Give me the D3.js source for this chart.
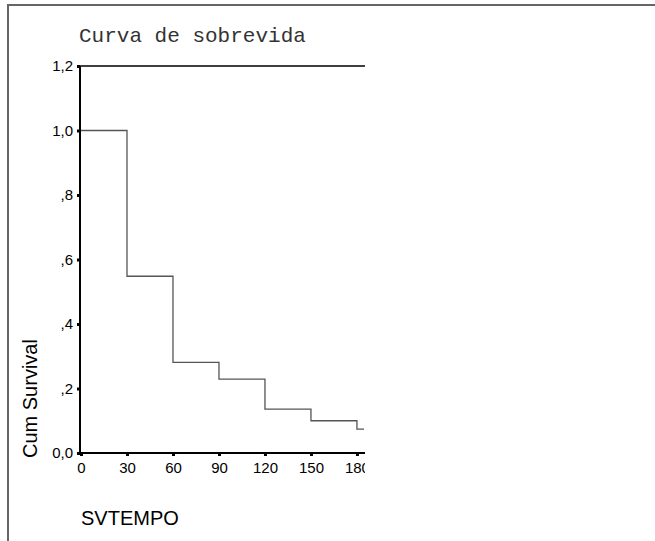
<!DOCTYPE html>
<html>
<head>
<meta charset="utf-8">
<script src="https://cdn.jsdelivr.net/npm/d3@7"></script>
<style>
  html, body { margin: 0; padding: 0; background: #fff; }
  svg { display: block; }
</style>
</head>
<body>
<div id="chart"></div>
<script>
// Kaplan-Meier steps
const times = [0, 30, 60, 90, 120, 150, 180];
const survival = [1.0, 0.548, 0.281, 0.229, 0.136, 0.100, 0.074];

const xTicks = [0, 30, 60, 90, 120, 150, 180];
const yTicks = [0, 0.2, 0.4, 0.6, 0.8, 1.0, 1.2];
const yTickLabels = ['0,0', ',2', ',4', ',6', ',8', '1,0', '1,2'];

const width = 655, height = 541;
const sans = '"Liberation Sans", Arial, sans-serif';

const svg = d3.select('#chart').append('svg')
  .attr('width', width)
  .attr('height', height);

// outer frame (only top and left edges are visible)
svg.append('path')
  .attr('d', `M8,${height}V5H${width}`)
  .attr('fill', 'none')
  .attr('stroke', '#666')
  .attr('stroke-width', 2);

// title
svg.append('text')
  .attr('x', 79)
  .attr('y', 42)
  .style('font-family', '"Liberation Mono", "Courier New", monospace')
  .style('font-size', '21px')
  .attr('fill', '#333')
  .text('Curva de sobrevida');

const x = d3.scaleLinear().domain([0, 184.6]).range([81, 364]);
const y = d3.scaleLinear().domain([0, 1.2]).range([453, 66]);

svg.append('clipPath').attr('id', 'plot-clip')
  .append('rect')
  .attr('x', 0).attr('y', 0)
  .attr('width', 365).attr('height', height);

const g = svg.append('g').attr('clip-path', 'url(#plot-clip)');

// survival step curve
const pts = [];
times.forEach((t, i) => {
  if (i > 0) pts.push([t, survival[i - 1]]);
  pts.push([t, survival[i]]);
});
pts.push([x.domain()[1], survival[survival.length - 1]]);

g.append('path')
  .datum(pts)
  .attr('fill', 'none')
  .attr('stroke', '#555')
  .attr('stroke-width', 1.3)
  .attr('d', d3.line().x(d => x(d[0])).y(d => y(d[1])));

// top line at 1,2
g.append('line')
  .attr('x1', 80).attr('x2', 365)
  .attr('y1', y(1.2)).attr('y2', y(1.2))
  .attr('stroke', '#000')
  .attr('stroke-width', 1.5);

// y axis
const yAxis = d3.axisLeft(y)
  .tickValues(yTicks)
  .tickSize(3)
  .tickPadding(4)
  .tickFormat((d, i) => yTickLabels[i]);

const yg = g.append('g')
  .attr('transform', 'translate(80,0)')
  .call(yAxis);
yg.select('.domain').attr('stroke', '#000').attr('stroke-width', 2)
  .attr('d', `M0,${y(1.2)}V${y(0)}`);
yg.selectAll('.tick line').attr('stroke', '#000').attr('stroke-width', 3);
yg.selectAll('.tick text')
  .style('font-family', sans)
  .style('font-size', '15px')
  .attr('fill', '#000');

// x axis
const xAxis = d3.axisBottom(x)
  .tickValues(xTicks)
  .tickSize(3)
  .tickPadding(6)
  .tickFormat(d3.format('d'));

const xg = g.append('g')
  .attr('transform', `translate(0,${y(0)})`)
  .call(xAxis);
xg.select('.domain').attr('stroke', '#000').attr('stroke-width', 2)
  .attr('d', `M80,0H365`);
xg.selectAll('.tick line').attr('stroke', '#000').attr('stroke-width', 3);
xg.selectAll('.tick text')
  .style('font-family', sans)
  .style('font-size', '15px')
  .attr('fill', '#000');

// axis titles
svg.append('text')
  .attr('x', 81)
  .attr('y', 525)
  .style('font-family', sans)
  .style('font-size', '20px')
  .attr('fill', '#000')
  .text('SVTEMPO');

svg.append('text')
  .attr('transform', 'translate(37,458) rotate(-90)')
  .style('font-family', sans)
  .style('font-size', '20px')
  .attr('fill', '#000')
  .text('Cum Survival');
</script>
</body>
</html>
